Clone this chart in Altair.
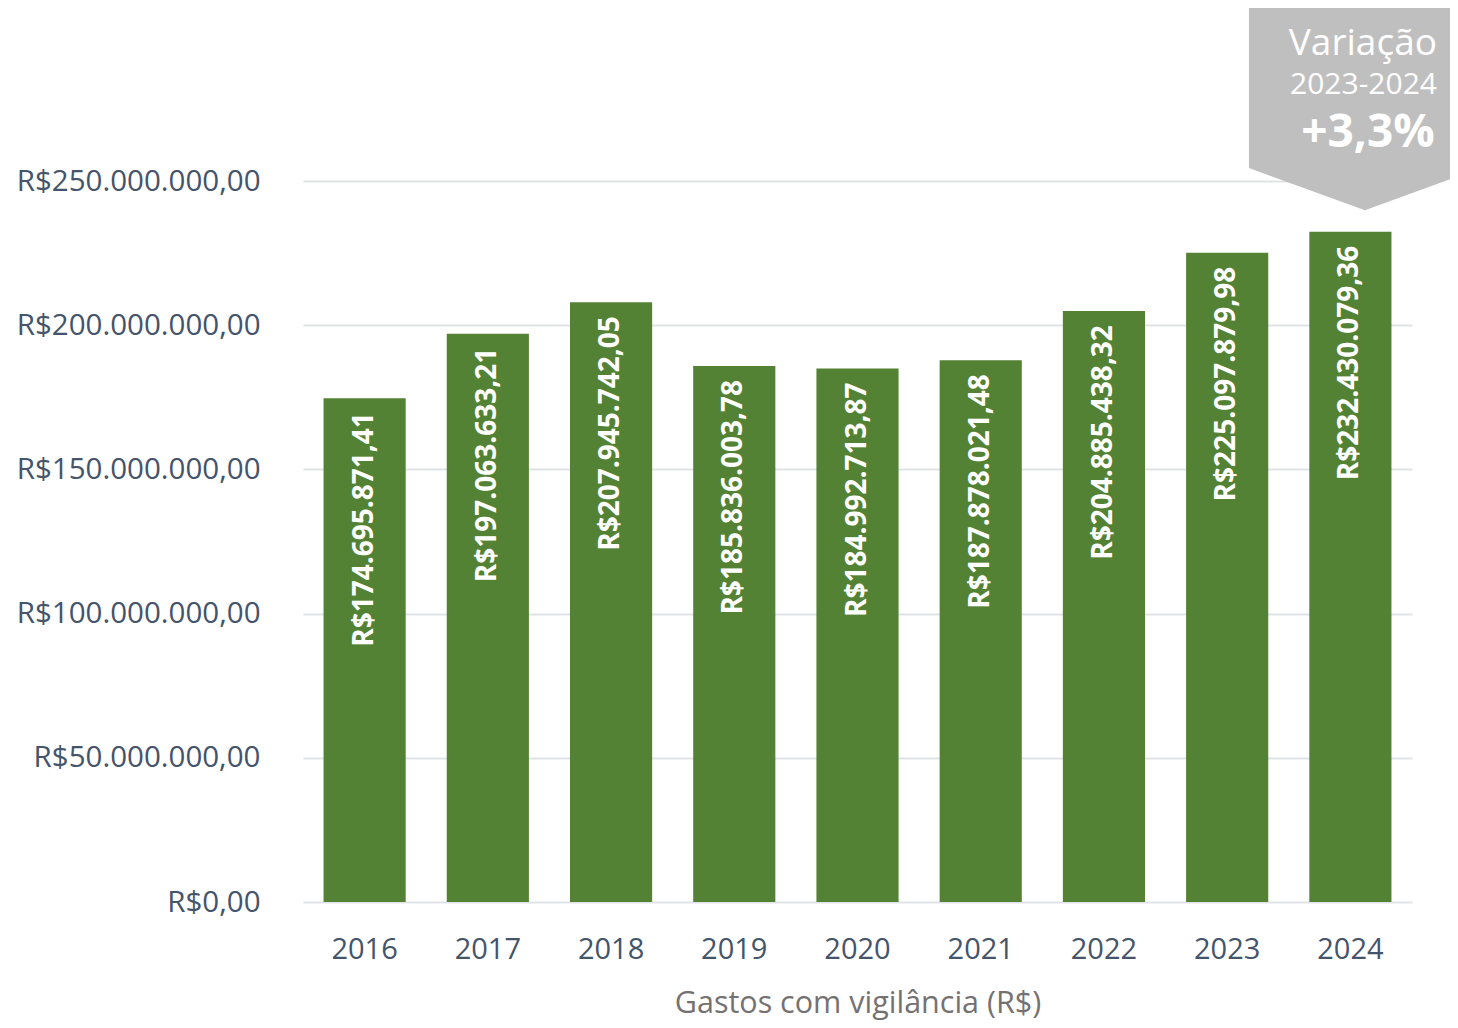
import altair as alt
import pandas as pd

FONT = "Open Sans"

years = ["2016", "2017", "2018", "2019", "2020", "2021", "2022", "2023", "2024"]
values = [174695871.41, 197063633.21, 207945742.05, 185836003.78, 184992713.87,
          187878021.48, 204885438.32, 225097879.98, 232430079.36]
labels = ["R$174.695.871,41", "R$197.063.633,21", "R$207.945.742,05", "R$185.836.003,78",
          "R$184.992.713,87", "R$187.878.021,48", "R$204.885.438,32", "R$225.097.879,98",
          "R$232.430.079,36"]
y_ticks = [0, 50000000, 100000000, 150000000, 200000000, 250000000]
y_tick_labels = ["R$0,00", "R$50.000.000,00", "R$100.000.000,00", "R$150.000.000,00",
                 "R$200.000.000,00", "R$250.000.000,00"]

callout_lines = ["Variação", "2023-2024", "+3,3%"]

df = pd.DataFrame({"year": years, "value": values, "label": labels})

label_expr = "[" + ",".join("'" + s + "'" for s in y_tick_labels) + "][round(datum.value / 50000000)]"

yscale = alt.Scale(domain=[0, 250000000], nice=False, zero=True)
xband = alt.Scale(paddingInner=1/3, paddingOuter=1/6)

yaxis = alt.Axis(values=y_ticks, labelExpr=label_expr, grid=True,
                 gridColor="#dfe3e8", gridWidth=2, labelFontSize=29.5,
                 labelColor="#44546a", labelFont=FONT, labelPadding=43,
                 labelLimit=600, title=None)
xaxis = alt.Axis(labelAngle=0, labelFontSize=29, labelColor="#44546a",
                 labelFont=FONT, labelPadding=33, title="Gastos com vigilância (R$)",
                 titleFont=FONT, titleFontSize=30.5, titleFontWeight="normal",
                 titleColor="#767171", titlePadding=24)

base = alt.Chart(df)
bars = base.mark_bar(color="#548235").encode(
    x=alt.X("year:N", scale=xband, sort=years, axis=xaxis, title="Gastos com vigilância (R$)"),
    y=alt.Y("value:Q", scale=yscale, axis=yaxis, title=None),
)
text = base.mark_text(angle=270, align="right", baseline="middle", dx=-14,
                      color="white", fontWeight="bold", fontSize=28, font=FONT).encode(
    x=alt.X("year:N", scale=xband, sort=years, axis=xaxis, title="Gastos com vigilância (R$)"),
    y=alt.Y("value:Q", scale=yscale, axis=yaxis, title=None),
    text="label:N",
)

main = alt.layer(bars, text)

# callout annotation (positioned in data coordinates)
cdf = pd.DataFrame({
    "cx": [0.853, 0.9576, 1.0622],
    "top": [312000000, 312000000, 312000000],
    "bottom": [254500000, 239900000, 254500000],
})
cxscale = alt.Scale(domain=[0, 1], nice=False, zero=False)
callout = alt.Chart(cdf).mark_area(color="#bfbfbf", clip=False, opacity=1).encode(
    x=alt.X("cx:Q", scale=cxscale, axis=None),
    y=alt.Y("top:Q", scale=yscale, axis=yaxis, title=None),
    y2="bottom:Q",
)

tdf = pd.DataFrame({
    "t": callout_lines,
    "tx": [1.0225, 1.0225, 1.0205],
    "ty": [293800000, 280300000, 261700000],
})
t_common = dict(
    x=alt.X("tx:Q", scale=cxscale, axis=None),
    y=alt.Y("ty:Q", scale=yscale, axis=yaxis, title=None),
    text="t:N",
)
t1 = alt.Chart(tdf.iloc[[0]]).mark_text(align="right", baseline="alphabetic", color="white",
                                         fontSize=37, font=FONT).encode(**t_common)
t2 = alt.Chart(tdf.iloc[[1]]).mark_text(align="right", baseline="alphabetic", color="white",
                                         fontSize=30, font=FONT).encode(**t_common)
t3 = alt.Chart(tdf.iloc[[2]]).mark_text(align="right", baseline="alphabetic", color="white",
                                         fontSize=46, fontWeight="bold", font=FONT).encode(**t_common)

ann = alt.layer(callout, t1, t2, t3)

chart = alt.layer(main, ann).resolve_scale(x="independent").properties(
    width=1109, height=721,
    autosize=alt.AutoSizeParams(type="none"),
    padding={"left": 295, "top": 173, "right": 38, "bottom": 118},
).configure_view(stroke=None).configure_axis(domain=False, ticks=False)

chart.save("out.html", embed_options={"renderer": "svg", "actions": False})
